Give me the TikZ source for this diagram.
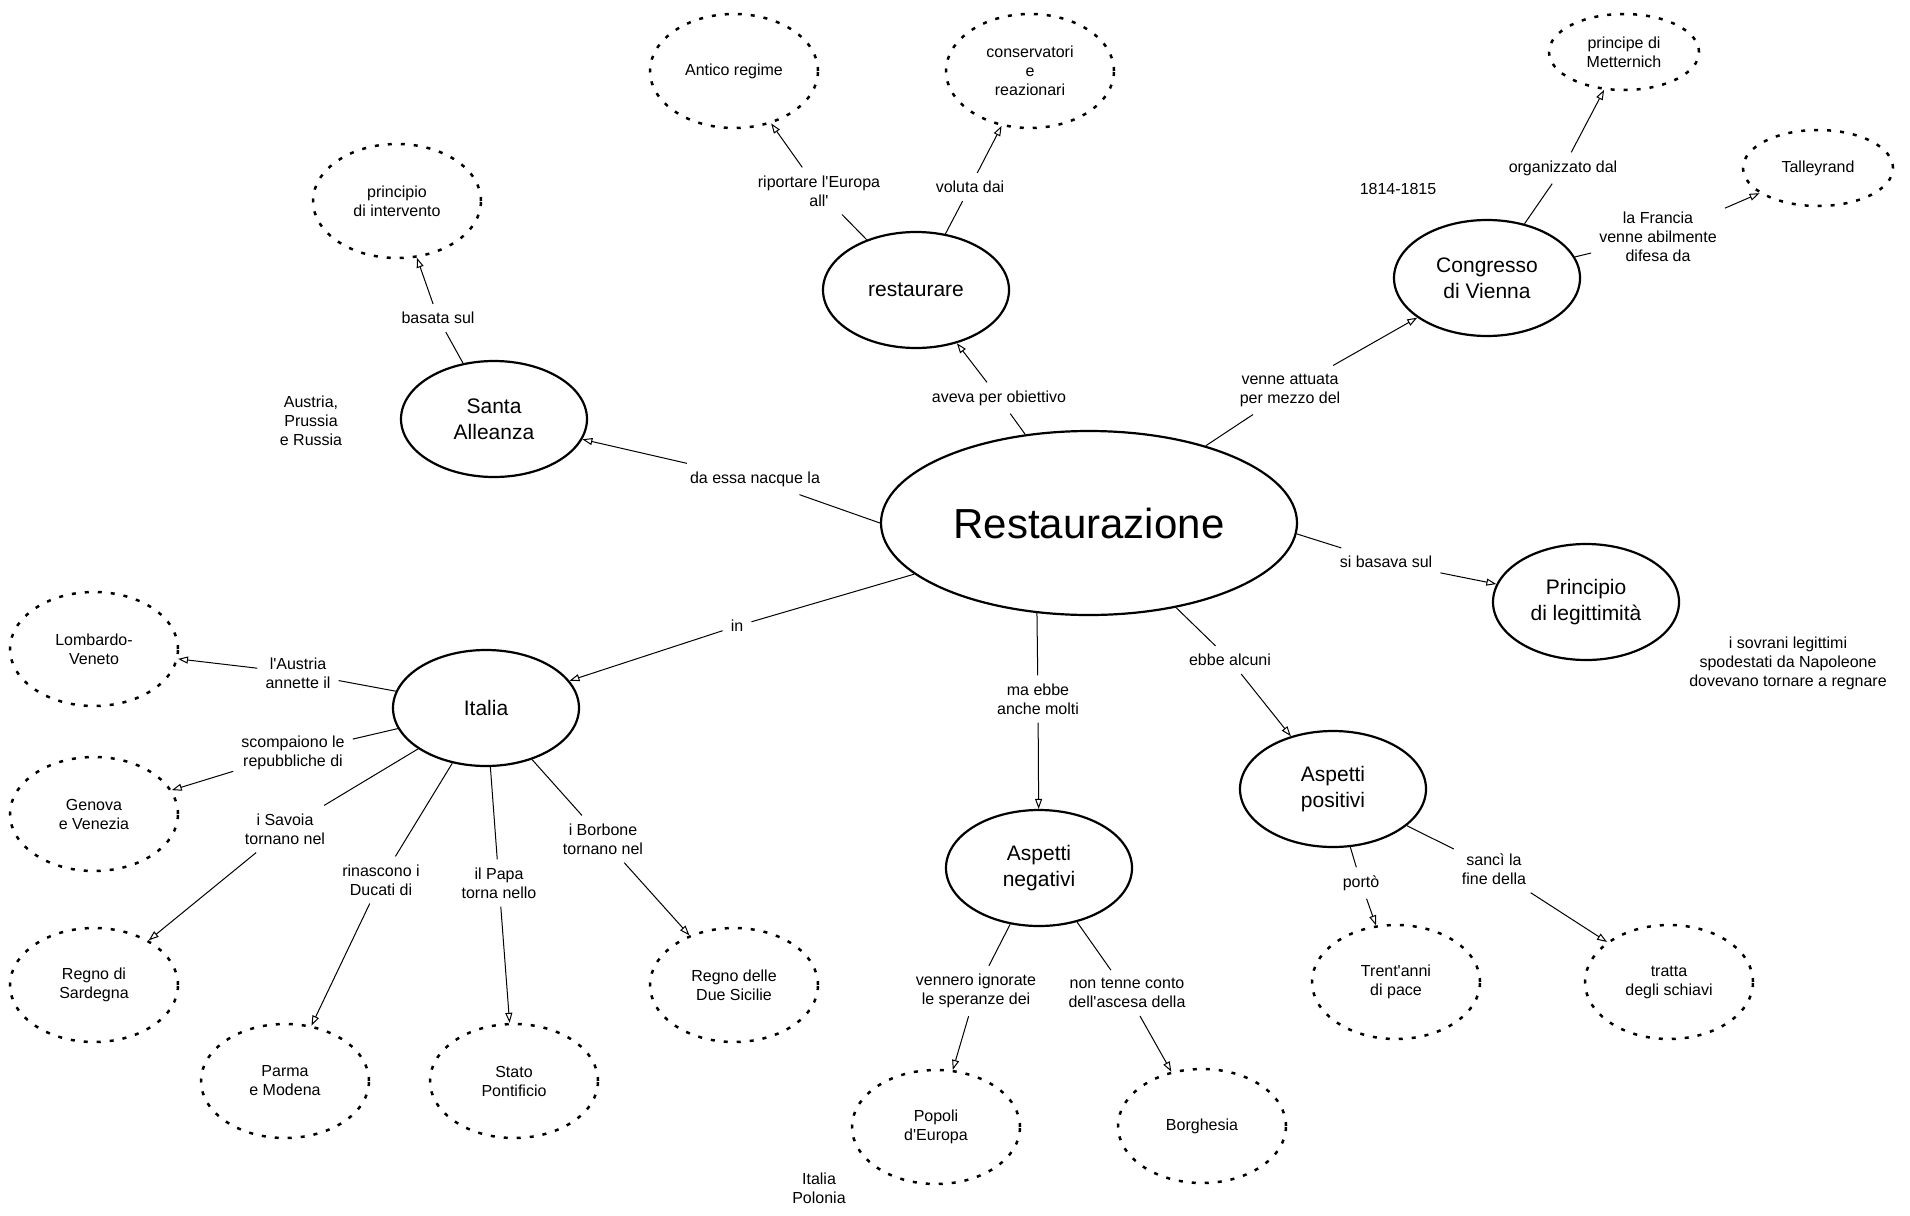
\documentclass[tikz,border=0pt]{standalone}
\usepackage{fontspec}
\setmainfont{Liberation Sans}
\usetikzlibrary{shapes.geometric,arrows.meta}
\newcommand{\myq}{\textquotesingle}
\begin{document}
\begin{tikzpicture}[x=1pt,y=-1pt,
 mainnode/.style={ellipse, draw, line width=2.2pt, minimum width=186pt, minimum height=116pt, inner sep=0pt, align=center, font=\fontsize{21}{26}\selectfont},
 leaf/.style={ellipse, draw, line width=2.5pt, dash pattern=on 4pt off 9pt, minimum width=168pt, minimum height=114pt, inner sep=0pt, align=center, font=\fontsize{16}{19}\selectfont},
 smallleaf/.style={leaf, minimum width=150pt, minimum height=76pt},
 lbl/.style={align=center, inner sep=8pt, font=\fontsize{16}{19}\selectfont},
 note/.style={align=center, inner sep=0pt, font=\fontsize{16}{19}\selectfont},
 link/.style={line width=1pt},
 arr/.style={line width=1pt, -{Triangle[open,length=10pt,width=7pt]}}
]
\useasboundingbox (0,0) rectangle (1910,1215);

% main concept
\node[ellipse, draw, line width=2.2pt, minimum width=416pt, minimum height=184pt, inner sep=0pt, font=\fontsize{42}{50}\selectfont] (rest) at (1089,523) {Restaurazione};

% solid ellipses
\node[mainnode] (restaurare) at (916,290) {restaurare};
\node[mainnode] (santa) at (494,419) {Santa\\Alleanza};
\node[mainnode] (congr) at (1487,278) {Congresso\\di Vienna};
\node[mainnode] (princ) at (1586,602) {Principio\\di legittimità};
\node[mainnode] (italia) at (486,708) {Italia};
\node[mainnode] (neg) at (1039,868) {Aspetti\\negativi};
\node[mainnode] (pos) at (1333,789) {Aspetti\\positivi};

% dotted ellipses
\node[leaf] (antico) at (734,71) {Antico regime};
\node[leaf] (cons) at (1030,71) {conservatori\\e\\reazionari};
\node[leaf] (interv) at (397,201) {principio\\di intervento};
\node[smallleaf] (mett) at (1624,52) {principe di\\Metternich};
\node[smallleaf] (talley) at (1818,168) {Talleyrand};
\node[leaf] (lomb) at (94,649) {Lombardo-\\Veneto};
\node[leaf] (genova) at (94,814) {Genova\\e Venezia};
\node[leaf] (sard) at (94,985) {Regno di\\Sardegna};
\node[leaf] (parma) at (285,1081) {Parma\\e Modena};
\node[leaf] (stato) at (514,1081) {Stato\\Pontificio};
\node[leaf] (sicilie) at (734,985) {Regno delle\\Due Sicilie};
\node[leaf] (popoli) at (936,1127) {Popoli\\d\myq Europa};
\node[leaf] (borgh) at (1202,1126) {Borghesia};
\node[leaf] (trent) at (1396,982) {Trent\myq anni\\di pace};
\node[leaf] (tratta) at (1669,982) {tratta\\degli schiavi};

% linking phrases
\node[lbl] (l1) at (819,191) {riportare l\myq Europa\\all\myq};
\node[lbl] (l2) at (970,187) {voluta dai};
\node[lbl] (l3) at (438,318) {basata sul};
\node[lbl] (l4) at (755,479) {da essa nacque la};
\node[lbl] (l5) at (999,398) {aveva per obiettivo};
\node[lbl] (l6) at (1290,390) {venne attuata\\per mezzo del};
\node[lbl] (l7) at (1563,168) {organizzato dal};
\node[lbl] (l8) at (1658,237) {la Francia\\venne abilmente\\difesa da};
\node[lbl] (l9) at (1386,562) {si basava sul};
\node[lbl] (l10) at (737,626) {in};
\node[lbl] (l11) at (1230,660) {ebbe alcuni};
\node[lbl] (l12) at (1038,699) {ma ebbe\\anche molti};
\node[lbl] (l13) at (298,673) {l\myq Austria\\annette il};
\node[lbl] (l14) at (293,753) {scompaiono le\\repubbliche di};
\node[lbl] (l15) at (285,829) {i Savoia\\tornano nel};
\node[lbl] (l16) at (381,880) {rinascono i\\Ducati di};
\node[lbl] (l17) at (499,883) {il Papa\\torna nello};
\node[lbl] (l18) at (603,839) {i Borbone\\tornano nel};
\node[lbl] (l19) at (976,991) {vennero ignorate\\le speranze dei};
\node[lbl] (l20) at (1127,993) {non tenne conto\\dell\myq ascesa della};
\node[lbl] (l21) at (1361,883) {portò};
\node[lbl] (l22) at (1494,869) {sancì la\\fine della};

% free notes
\node[note] (n1) at (311,421) {Austria,\\Prussia\\e Russia};
\node[note] (n2) at (1398,189) {1814-1815};
\node[note] (n3) at (1788,663) {i sovrani legittimi\\spodestati da Napoleone\\dovevano tornare a regnare};
\node[note] (n4) at (819,1188) {Italia\\Polonia};

% connectors
\draw[link] (rest) -- (l5);  \draw[arr] (l5) -- (restaurare);
\draw[link] (restaurare) -- (l1); \draw[arr] (l1) -- (antico);
\draw[link] (restaurare) -- (l2); \draw[arr] (l2) -- (cons);
\draw[link] (rest.west) -- (l4); \draw[arr] (l4) -- (santa);
\draw[link] (santa) -- (l3); \draw[arr] (l3) -- (interv);
\draw[link] (rest) -- (l6); \draw[arr] (l6) -- (congr);
\draw[link] (congr) -- (l7); \draw[arr] (l7) -- (mett);
\draw[link] (congr) -- (l8); \draw[arr] (l8) -- (talley);
\draw[link] (rest.-3) -- (l9); \draw[arr] (l9) -- (princ);
\draw[link] (rest) -- (l10); \draw[arr] (l10) -- (italia);
\draw[link] (rest.240) -- (l12); \draw[arr] (l12) -- (neg);
\draw[link] (rest) -- (l11); \draw[arr] (l11) -- (pos);
\draw[link] (italia) -- (l13); \draw[arr] (l13) -- (lomb);
\draw[link] (italia) -- (l14); \draw[arr] (l14) -- (genova);
\draw[link] (italia) -- (l15); \draw[arr] (l15) -- (sard);
\draw[link] (italia) -- (l16); \draw[arr] (l16) -- (parma);
\draw[link] (italia) -- (l17); \draw[arr] (l17) -- (stato);
\draw[link] (italia) -- (l18); \draw[arr] (l18) -- (sicilie);
\draw[link] (neg) -- (l19); \draw[arr] (l19) -- (popoli);
\draw[link] (neg) -- (l20); \draw[arr] (l20) -- (borgh);
\draw[link] (pos) -- (l21); \draw[arr] (l21) -- (trent);
\draw[link] (pos) -- (l22); \draw[arr] (l22) -- (tratta);
\end{tikzpicture}
\end{document}
